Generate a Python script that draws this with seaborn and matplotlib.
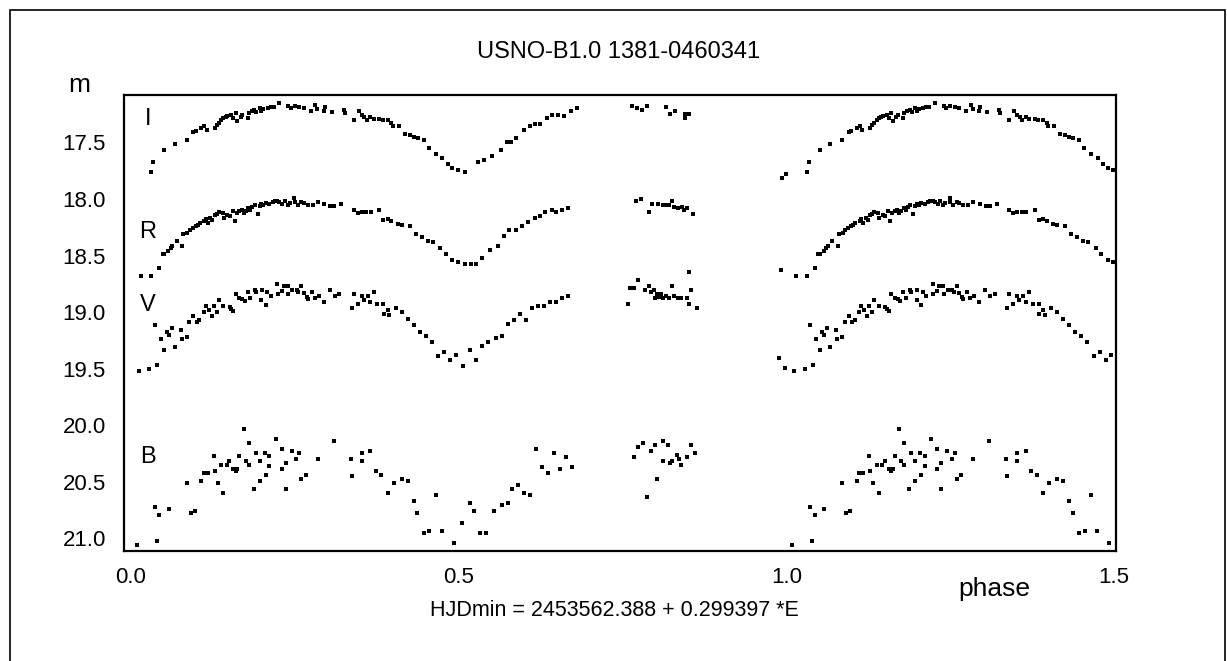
import pandas as pd
import numpy as np
import matplotlib.pyplot as plt
import seaborn as sns

# 1. Veriler (faz, parlaklik) - I, R, V, B bantlari
i_phase = [0.031, 0.034, 0.051, 0.067, 0.085, 0.095, 0.099, 0.107, 0.112, 0.116, 0.128, 0.131, 0.134, 0.138,
           0.141, 0.145, 0.147, 0.153, 0.156, 0.160, 0.162, 0.167, 0.170, 0.178, 0.180, 0.184, 0.188, 0.191,
           0.196, 0.199, 0.202, 0.209, 0.213, 0.218, 0.226, 0.240, 0.244, 0.250, 0.257, 0.264, 0.274, 0.281,
           0.284, 0.294, 0.296, 0.306, 0.325, 0.326, 0.340, 0.348, 0.352, 0.356, 0.360, 0.365, 0.370, 0.379,
           0.384, 0.392, 0.397, 0.399, 0.409, 0.418, 0.425, 0.431, 0.438, 0.447, 0.454, 0.465, 0.475, 0.483,
           0.490, 0.499, 0.510, 0.529, 0.538, 0.551, 0.564, 0.573, 0.579, 0.588, 0.600, 0.609, 0.616, 0.624,
           0.634, 0.643, 0.651, 0.661, 0.671, 0.680, 0.765, 0.772, 0.780, 0.787, 0.817, 0.823, 0.830, 0.845,
           0.846, 0.851, 0.994, 0.999]
i_mag = [17.762, 17.673, 17.564, 17.514, 17.476, 17.408, 17.402, 17.373, 17.358, 17.387, 17.373, 17.343, 17.329, 17.299,
         17.284, 17.278, 17.270, 17.255, 17.284, 17.240, 17.314, 17.278, 17.255, 17.284, 17.240, 17.225, 17.211, 17.231,
         17.196, 17.225, 17.202, 17.196, 17.190, 17.190, 17.152, 17.181, 17.196, 17.181, 17.190, 17.196, 17.225, 17.172,
         17.202, 17.219, 17.190, 17.231, 17.211, 17.240, 17.299, 17.225, 17.261, 17.278, 17.299, 17.278, 17.293, 17.290,
         17.299, 17.299, 17.329, 17.358, 17.358, 17.426, 17.438, 17.455, 17.461, 17.476, 17.550, 17.603, 17.638, 17.691,
         17.726, 17.744, 17.762, 17.673, 17.656, 17.617, 17.564, 17.497, 17.497, 17.461, 17.387, 17.358, 17.337, 17.337,
         17.284, 17.261, 17.261, 17.270, 17.225, 17.196, 17.175, 17.196, 17.211, 17.175, 17.190, 17.249, 17.225, 17.249,
         17.284, 17.249, 17.815, 17.779]

r_phase = [0.015, 0.031, 0.043, 0.048, 0.051, 0.057, 0.061, 0.063, 0.070, 0.078, 0.080, 0.086, 0.090, 0.094,
           0.099, 0.102, 0.105, 0.112, 0.114, 0.117, 0.121, 0.124, 0.128, 0.131, 0.134, 0.140, 0.142, 0.147,
           0.151, 0.155, 0.158, 0.161, 0.165, 0.169, 0.172, 0.175, 0.179, 0.182, 0.185, 0.189, 0.193, 0.196,
           0.199, 0.202, 0.206, 0.211, 0.216, 0.219, 0.223, 0.226, 0.231, 0.235, 0.239, 0.242, 0.249, 0.250,
           0.254, 0.260, 0.264, 0.270, 0.277, 0.285, 0.295, 0.304, 0.310, 0.321, 0.340, 0.346, 0.352, 0.359,
           0.366, 0.379, 0.385, 0.392, 0.397, 0.407, 0.413, 0.425, 0.435, 0.444, 0.453, 0.460, 0.472, 0.480,
           0.490, 0.499, 0.510, 0.519, 0.526, 0.536, 0.548, 0.560, 0.569, 0.576, 0.588, 0.597, 0.606, 0.616,
           0.624, 0.631, 0.643, 0.649, 0.658, 0.667, 0.770, 0.778, 0.790, 0.795, 0.804, 0.812, 0.816, 0.821,
           0.826, 0.828, 0.835, 0.840, 0.843, 0.848, 0.857, 0.991]
r_mag = [18.684, 18.684, 18.611, 18.487, 18.487, 18.463, 18.434, 18.419, 18.375, 18.419, 18.310, 18.301, 18.272, 18.257,
         18.242, 18.233, 18.213, 18.192, 18.174, 18.213, 18.168, 18.183, 18.145, 18.133, 18.115, 18.124, 18.168, 18.145,
         18.154, 18.110, 18.192, 18.124, 18.110, 18.095, 18.124, 18.104, 18.080, 18.095, 18.074, 18.051, 18.133, 18.065,
         18.045, 18.056, 18.036, 18.045, 18.027, 18.021, 18.021, 18.027, 18.045, 18.015, 18.056, 18.036, 17.992, 18.027,
         18.051, 18.027, 18.036, 18.056, 18.051, 18.027, 18.045, 18.065, 18.065, 18.045, 18.095, 18.124, 18.115, 18.115,
         18.115, 18.095, 18.183, 18.174, 18.192, 18.222, 18.227, 18.242, 18.310, 18.339, 18.369, 18.381, 18.434, 18.487,
         18.537, 18.558, 18.575, 18.575, 18.575, 18.522, 18.451, 18.419, 18.331, 18.275, 18.275, 18.242, 18.204, 18.168,
         18.154, 18.115, 18.098, 18.115, 18.098, 18.080, 18.015, 17.998, 18.115, 18.045, 18.045, 18.056, 18.056, 18.056,
         18.015, 18.068, 18.080, 18.074, 18.098, 18.080, 18.133, 18.632]

v_phase = [0.012, 0.028, 0.040, 0.036, 0.045, 0.051, 0.055, 0.058, 0.062, 0.067, 0.076, 0.077, 0.085, 0.089,
           0.095, 0.100, 0.104, 0.111, 0.114, 0.119, 0.123, 0.126, 0.131, 0.134, 0.141, 0.151, 0.153, 0.156,
           0.160, 0.165, 0.170, 0.174, 0.178, 0.182, 0.189, 0.190, 0.199, 0.200, 0.206, 0.208, 0.213, 0.223,
           0.224, 0.230, 0.233, 0.239, 0.240, 0.246, 0.253, 0.255, 0.260, 0.264, 0.268, 0.270, 0.276, 0.280,
           0.287, 0.294, 0.303, 0.311, 0.318, 0.337, 0.340, 0.346, 0.352, 0.355, 0.361, 0.365, 0.370, 0.376,
           0.385, 0.386, 0.392, 0.394, 0.404, 0.413, 0.422, 0.431, 0.441, 0.450, 0.459, 0.469, 0.478, 0.487,
           0.496, 0.506, 0.517, 0.526, 0.535, 0.544, 0.557, 0.566, 0.575, 0.585, 0.594, 0.603, 0.612, 0.621,
           0.630, 0.640, 0.649, 0.658, 0.667, 0.759, 0.762, 0.768, 0.774, 0.784, 0.790, 0.793, 0.798, 0.799,
           0.802, 0.806, 0.809, 0.812, 0.816, 0.821, 0.826, 0.829, 0.834, 0.839, 0.848, 0.851, 0.854, 0.852,
           0.863, 0.989, 0.998]
v_mag = [19.518, 19.501, 19.465, 19.112, 19.235, 19.339, 19.180, 19.200, 19.141, 19.309, 19.162, 19.235, 19.221, 19.091,
         19.038, 19.091, 19.073, 19.003, 18.944, 18.979, 19.038, 18.950, 19.003, 18.897, 18.950, 18.956, 18.973, 18.994,
         18.841, 18.876, 18.885, 18.905, 18.826, 18.876, 18.808, 18.826, 18.897, 18.808, 18.935, 18.826, 18.855, 18.749,
         18.838, 18.817, 18.773, 18.767, 18.838, 18.808, 18.808, 18.826, 18.767, 18.832, 18.867, 18.885, 18.823, 18.876,
         18.861, 18.914, 18.808, 18.861, 18.838, 18.967, 18.838, 18.929, 18.855, 18.897, 18.861, 18.914, 18.823, 18.926,
         18.926, 19.017, 18.979, 19.023, 18.964, 18.999, 19.059, 19.112, 19.177, 19.215, 19.268, 19.392, 19.356, 19.427,
         19.377, 19.480, 19.339, 19.427, 19.303, 19.268, 19.233, 19.215, 19.109, 19.073, 19.017, 19.073, 18.967, 18.950,
         18.950, 18.914, 18.914, 18.879, 18.861, 18.932, 18.790, 18.790, 18.720, 18.808, 18.773, 18.826, 18.808, 18.879,
         18.844, 18.867, 18.844, 18.879, 18.861, 18.879, 18.773, 18.861, 18.879, 18.879, 18.879, 18.649, 18.808, 18.932,
         18.967, 19.409, 19.498]

b_phase = [0.009, 0.036, 0.039, 0.043, 0.058, 0.085, 0.091, 0.097, 0.107, 0.111, 0.117, 0.126, 0.128, 0.132,
           0.138, 0.141, 0.146, 0.150, 0.156, 0.160, 0.162, 0.165, 0.172, 0.175, 0.180, 0.180, 0.187, 0.190,
           0.196, 0.196, 0.204, 0.206, 0.211, 0.211, 0.221, 0.230, 0.230, 0.236, 0.236, 0.245, 0.252, 0.257,
           0.260, 0.267, 0.285, 0.309, 0.335, 0.337, 0.352, 0.352, 0.365, 0.374, 0.382, 0.392, 0.401, 0.413,
           0.422, 0.431, 0.437, 0.447, 0.455, 0.465, 0.474, 0.493, 0.505, 0.517, 0.523, 0.532, 0.541, 0.554,
           0.566, 0.575, 0.582, 0.591, 0.600, 0.609, 0.618, 0.627, 0.636, 0.646, 0.655, 0.664, 0.673, 0.767,
           0.774, 0.781, 0.787, 0.793, 0.799, 0.802, 0.811, 0.811, 0.820, 0.823, 0.826, 0.833, 0.836, 0.839,
           0.848, 0.854, 0.860]
b_mag = [21.057, 20.721, 21.021, 20.792, 20.739, 20.512, 20.777, 20.762, 20.491, 20.423, 20.423, 20.276, 20.403, 20.512,
         20.349, 20.600, 20.349, 20.314, 20.385, 20.403, 20.385, 20.276, 20.031, 20.314, 20.158, 20.349, 20.562, 20.246,
         20.491, 20.314, 20.246, 20.438, 20.364, 20.276, 20.120, 20.208, 20.385, 20.335, 20.562, 20.226, 20.296, 20.246,
         20.473, 20.438, 20.296, 20.137, 20.296, 20.453, 20.246, 20.314, 20.226, 20.403, 20.438, 20.600, 20.512, 20.473,
         20.491, 20.668, 20.777, 20.954, 20.933, 20.615, 20.933, 21.042, 20.865, 20.688, 20.762, 20.954, 20.954, 20.762,
         20.703, 20.688, 20.565, 20.532, 20.600, 20.615, 20.208, 20.370, 20.423, 20.246, 20.385, 20.282, 20.370, 20.282,
         20.193, 20.158, 20.635, 20.226, 20.173, 20.476, 20.137, 20.314, 20.173, 20.335, 20.320, 20.261, 20.296, 20.349,
         20.282, 20.173, 20.246]

band_names = ['I', 'R', 'V', 'B']
band_label_mag = [17.29, 18.29, 18.935, 20.28]

# 2. DataFrame: faz 0-0.5 arasi noktalar 1.0-1.5'te tekrar ciziliyor
frames = []
for name, ph, mg in zip(band_names, [i_phase, r_phase, v_phase, b_phase], [i_mag, r_mag, v_mag, b_mag]):
    d = pd.DataFrame({'phase': ph, 'mag': mg, 'band': name})
    rep = d[d['phase'] <= 0.51].copy()
    rep['phase'] = rep['phase'] + 1.0
    frames.append(d)
    frames.append(rep)
df = pd.concat(frames, ignore_index=True)

# 3. Grafik
sns.set_style('white')
plt.rcParams['font.family'] = ['Liberation Sans', 'DejaVu Sans']
plt.rcParams['text.color'] = 'black'
plt.rcParams['xtick.color'] = 'black'
plt.rcParams['ytick.color'] = 'black'

fig = plt.figure(figsize=(12.27, 6.61), dpi=100)
ax = fig.add_axes([0.1011, 0.1669, 0.8082, 0.6898])

sns.scatterplot(data=df, x='phase', y='mag', marker='s', s=8, color='black',
                linewidth=0, legend=False, ax=ax)

ax.set_xlim(-0.0107, 1.5025)
ax.set_ylim(21.11, 17.078)
ax.set_xticks([0.0, 0.5, 1.0, 1.5])
ax.set_xticklabels(['0.0', '0.5', '1.0', '1.5'])
ax.set_yticks([17.5, 18.0, 18.5, 19.0, 19.5, 20.0, 20.5, 21.0])
ax.set_yticklabels(['17.5', '18.0', '18.5', '19.0', '19.5', '20.0', '20.5', '21.0'])
ax.tick_params(axis='both', direction='in', length=6, width=1.2, color='black',
               labelcolor='black', labelsize=16)
ax.tick_params(axis='x', pad=11.5)
ax.tick_params(axis='y', pad=13)
ax.set_xlabel('')
ax.set_ylabel('')
for sp in ax.spines.values():
    sp.set_visible(True)
    sp.set_color('black')
    sp.set_linewidth(1.6)

# bant etiketleri
for name, m in zip(band_names, band_label_mag):
    ax.text(0.026, m, name, fontsize=17, ha='center', va='center', color='black')

ax.text(-0.0454, 1.021, 'm', transform=ax.transAxes, fontsize=19, ha='center', va='center', color='black')
fig.text(994 / 1227, 1 - 589 / 661, 'phase', fontsize=19, ha='center', va='center', color='black')
fig.text(619 / 1227, 1 - 52 / 661, 'USNO-B1.0 1381-0460341', fontsize=17, ha='center', va='center', color='black')
fig.text(614 / 1227, 1 - 611 / 661, 'HJDmin = 2453562.388 + 0.299397 *E', fontsize=15.5, ha='center', va='center',
         color='black')

# dis cerceve
fig.add_artist(plt.Rectangle((10 / 1227, -0.1), 1215 / 1227, 1.1 - 10.5 / 661,
                             transform=fig.transFigure, fill=False, lw=1.2, color='black'))

fig.savefig('out.png', dpi=100)
